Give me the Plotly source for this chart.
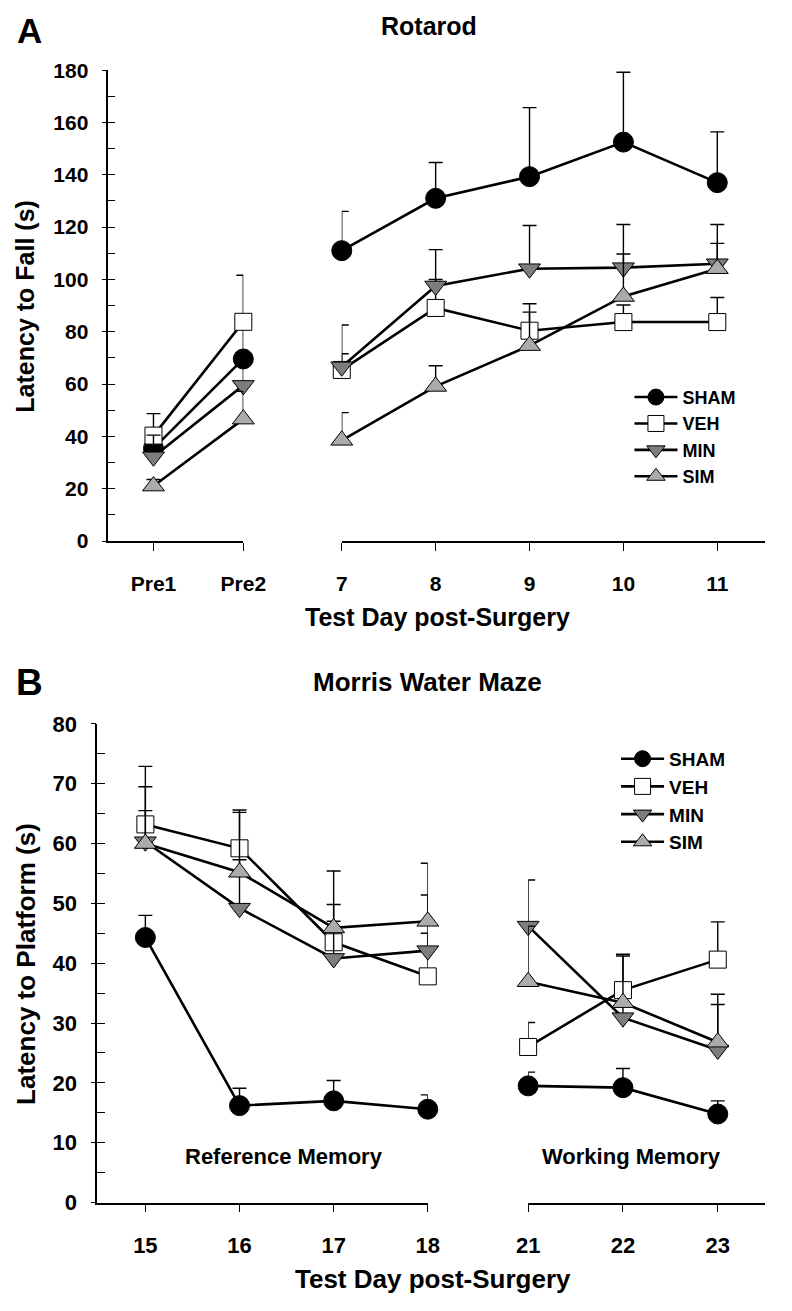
import plotly.graph_objects as go

W, H = 792, 1311
FONT = "Liberation Sans, Arial, Helvetica, sans-serif"

# ---------------- Panel A: Rotarod ----------------
rot_pre_days = ["Pre1", "Pre2"]
rot_post_days = [7, 8, 9, 10, 11]

rot_sham_pre = [35.4, 69.6]
rot_sham_pre_sem = [3.6, 14.4]
rot_sham_post = [111.0, 131.0, 139.3, 152.5, 137.0]
rot_sham_post_sem = [15.0, 13.7, 26.4, 26.7, 19.4]

rot_veh_pre = [40.3, 83.8]
rot_veh_pre_sem = [8.4, 17.8]
rot_veh_post = [65.4, 89.1, 80.4, 83.7, 83.7]
rot_veh_post_sem = [6.2, 10.9, 10.3, 6.5, 9.4]

rot_min_pre = [32.2, 59.5]
rot_min_pre_sem = [8.3, 8.5]
rot_min_post = [66.6, 97.5, 104.1, 104.5, 106.0]
rot_min_post_sem = [16.0, 13.9, 16.5, 16.5, 15.0]

rot_sim_pre = [21.0, 46.6]
rot_sim_pre_sem = [2.5, 10.6]
rot_sim_post = [38.5, 59.1, 74.7, 93.5, 104.1]
rot_sim_post_sem = [10.6, 7.9, 12.8, 16.2, 9.7]

# ---------------- Panel B: Morris Water Maze ----------------
mwm_ref_days = [15, 16, 17, 18]
mwm_work_days = [21, 22, 23]

mwm_sham_ref = [44.3, 16.2, 17.0, 15.6]
mwm_sham_ref_sem = [3.7, 2.9, 3.4, 2.4]
mwm_sham_work = [19.5, 19.2, 14.8]
mwm_sham_work_sem = [2.3, 3.2, 2.2]

mwm_veh_ref = [63.2, 59.2, 43.5, 37.8]
mwm_veh_ref_sem = [9.7, 6.4, 6.3, 7.2]
mwm_veh_work = [26.0, 35.5, 40.6]
mwm_veh_work_sem = [4.1, 6.0, 6.3]

mwm_min_ref = [60.3, 49.2, 40.8, 42.1]
mwm_min_ref_sem = [5.2, 8.1, 6.2, 9.3]
mwm_min_work = [46.2, 30.9, 25.5]
mwm_min_work_sem = [7.7, 2.5, 7.6]

mwm_sim_ref = [60.0, 55.2, 45.9, 47.0]
mwm_sim_ref_sem = [9.5, 10.0, 9.5, 9.7]
mwm_sim_work = [36.9, 33.4, 26.8]
mwm_sim_work_sem = [9.3, 7.8, 8.0]

group_names = ["SHAM", "VEH", "MIN", "SIM"]

# ---------------- styles ----------------
styles = {
    "SHAM": dict(symbol="circle", size=20, color="black"),
    "VEH": dict(symbol="square", size=17, color="white"),
    "MIN": dict(symbol="triangle-down", size=19, color="#7d7d7d"),
    "SIM": dict(symbol="triangle-up", size=19, color="#ababab"),
}


def px_x(p):
    return p / W


def px_y(p):
    return 1 - p / H


def trace(name, x, y, sem, xa, ya, legend, show):
    st = styles[name]
    return go.Scatter(
        x=x, y=y, name=name, mode="lines+markers",
        xaxis=xa, yaxis=ya, legend=legend, showlegend=show,
        legendgroup=legend + name, cliponaxis=False,
        line=dict(color="black", width=2.6),
        marker=dict(symbol=st["symbol"], size=st["size"], color=st["color"],
                    line=dict(color="black", width=1)),
        error_y=dict(type="data", symmetric=False, array=sem,
                     arrayminus=[0] * len(sem), color="black",
                     thickness=1.4, width=7),
    )


fig = go.Figure()

pre_pos = list(range(len(rot_pre_days)))
rot_data = {
    "SHAM": (rot_sham_pre, rot_sham_pre_sem, rot_sham_post, rot_sham_post_sem),
    "VEH": (rot_veh_pre, rot_veh_pre_sem, rot_veh_post, rot_veh_post_sem),
    "MIN": (rot_min_pre, rot_min_pre_sem, rot_min_post, rot_min_post_sem),
    "SIM": (rot_sim_pre, rot_sim_pre_sem, rot_sim_post, rot_sim_post_sem),
}
for g in group_names:
    a, ae, b, be = rot_data[g]
    fig.add_trace(trace(g, pre_pos, a, ae, "x", "y", "legend", False))
    fig.add_trace(trace(g, rot_post_days, b, be, "x2", "y", "legend", True))

mwm_data = {
    "SHAM": (mwm_sham_ref, mwm_sham_ref_sem, mwm_sham_work, mwm_sham_work_sem),
    "VEH": (mwm_veh_ref, mwm_veh_ref_sem, mwm_veh_work, mwm_veh_work_sem),
    "MIN": (mwm_min_ref, mwm_min_ref_sem, mwm_min_work, mwm_min_work_sem),
    "SIM": (mwm_sim_ref, mwm_sim_ref_sem, mwm_sim_work, mwm_sim_work_sem),
}
for g in group_names:
    a, ae, b, be = mwm_data[g]
    fig.add_trace(trace(g, mwm_ref_days, a, ae, "x3", "y3", "legend2", True))
    fig.add_trace(trace(g, mwm_work_days, b, be, "x4", "y3", "legend2", False))

# empty helper traces so the label-carrying overlay y axes get drawn
fig.add_trace(go.Scatter(x=[None], y=[None], xaxis="x", yaxis="y2",
                         showlegend=False, hoverinfo="skip", mode="markers"))
fig.add_trace(go.Scatter(x=[None], y=[None], xaxis="x3", yaxis="y4",
                         showlegend=False, hoverinfo="skip", mode="markers"))


def xaxis(domain, rng, vals, text, yanchor, size, standoff):
    return dict(domain=domain, range=rng, anchor=yanchor, tickmode="array",
                tickvals=vals, ticktext=text, ticks="outside", ticklen=8,
                tickwidth=1.4, tickcolor="black", showline=True, linewidth=1.5,
                linecolor="black", showgrid=False, zeroline=False,
                tickfont=dict(family=FONT, size=size, color="black", weight="bold"),
                ticklabelstandoff=standoff)


def yaxis_main(domain, rng, dtick, minor, xanchor):
    return dict(domain=domain, range=rng, anchor=xanchor, dtick=dtick,
                ticks="inside", ticklen=8, tickwidth=1.4, tickcolor="black",
                showline=True, linewidth=1.5, linecolor="black",
                showgrid=False, zeroline=False, showticklabels=False,
                minor=dict(dtick=minor, ticks="inside", ticklen=8,
                           tickwidth=1.4, tickcolor="black", showgrid=False))


def yaxis_lab(over, rng, dtick, xanchor, size, standoff):
    return dict(overlaying=over, range=rng, anchor=xanchor, dtick=dtick,
                side="left", ticks="outside", ticklen=5, tickwidth=1.4,
                tickcolor="black", showline=False, showgrid=False, zeroline=False,
                tickfont=dict(family=FONT, size=size, color="black", weight="bold"),
                ticklabelstandoff=standoff)


yA = [px_y(539.3), px_y(59.3)]
yB = [px_y(1213.7), px_y(725.7)]

fig.update_layout(
    width=W, height=H, margin=dict(l=0, r=0, t=0, b=0),
    paper_bgcolor="white", plot_bgcolor="rgba(0,0,0,0)",
    xaxis=xaxis([px_x(100), px_x(242)], [-0.511, 1], pre_pos, rot_pre_days, "y", 21, 15),
    xaxis2=xaxis([px_x(345), px_x(788)], [7, 11.51], rot_post_days,
                 [str(d) for d in rot_post_days], "y", 21, 15),
    yaxis=yaxis_main(yA, [0, 180], 20, 10, "x"),
    yaxis2=yaxis_lab("y", [0, 180], 20, "x", 21, 9),
    xaxis3=xaxis([px_x(89.3), px_x(435)], [14.49, 18], mwm_ref_days,
                 [str(d) for d in mwm_ref_days], "y3", 22, 14),
    xaxis4=xaxis([px_x(540), px_x(788)], [21, 23.5], mwm_work_days,
                 [str(d) for d in mwm_work_days], "y3", 22, 14),
    yaxis3=yaxis_main(yB, [0, 80], 10, 5, "x3"),
    yaxis4=yaxis_lab("y3", [0, 80], 10, "x3", 22, 10),
    legend=dict(x=px_x(646), y=px_y(374), xanchor="left", yanchor="top",
                bgcolor="rgba(0,0,0,0)", itemwidth=43, traceorder="normal",
                font=dict(family=FONT, size=18, color="black", weight="bold")),
    legend2=dict(x=px_x(632), y=px_y(742), xanchor="left", yanchor="top",
                 bgcolor="rgba(0,0,0,0)", itemwidth=43, traceorder="normal",
                 font=dict(family=FONT, size=19, color="black", weight="bold")),
    showlegend=True,
)


def ann(text, x, y, size, angle=0, xanchor="center"):
    fig.add_annotation(text=text, x=px_x(x), y=px_y(y), xref="paper", yref="paper",
                       showarrow=False, textangle=angle, xanchor=xanchor, yanchor="middle",
                       font=dict(family=FONT, size=size, color="black", weight="bold"))


ann("A", 18, 19, 35)
ann("B", 18, 684, 37)
ann("Rotarod", 436, 14, 25)
ann("Morris Water Maze", 435, 683, 26)
ann("Latency to Fall (s)", 14, 300, 25, angle=-90)
ann("Latency to Platform (s)", 14, 970, 26, angle=-90)
ann("Test Day post-Surgery", 445, 617, 25)
ann("Test Day post-Surgery", 440, 1292, 26)
ann("Reference Memory", 285, 1167, 22)
ann("Working Memory", 648, 1167, 22)

fig.write_html("out.html", config={"displayModeBar": False},
               post_script="document.body.style.margin='0';document.body.style.overflow='hidden';")
